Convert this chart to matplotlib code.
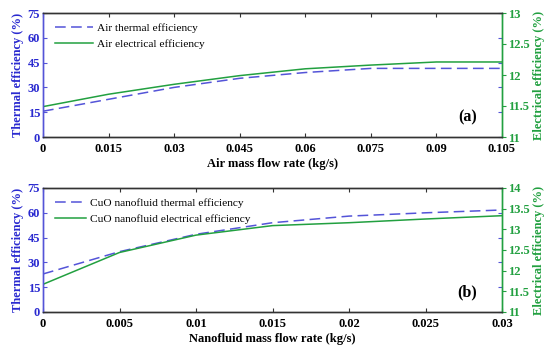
import matplotlib
matplotlib.use("Agg")
import matplotlib.pyplot as plt

# ---- data ----
x_air = [0, 0.015, 0.03, 0.045, 0.06, 0.075, 0.09, 0.105]
thermal_air = [15.6, 22.8, 30.0, 35.5, 39.0, 41.5, 41.5, 41.5]
elec_air = [11.49, 11.69, 11.85, 11.99, 12.10, 12.16, 12.21, 12.21]

x_nf = [0, 0.005, 0.01, 0.015, 0.02, 0.025, 0.03]
thermal_nf = [23.0, 36.5, 47.0, 54.0, 58.0, 60.0, 61.7]
elec_nf = [11.67, 12.44, 12.86, 13.09, 13.16, 13.25, 13.33]

air_labels = ["Air thermal efficiency", "Air electrical efficiency"]
nf_labels = ["CuO nanofluid thermal efficiency", "CuO nanofluid electrical efficiency"]

air_xticks = [0, 0.015, 0.03, 0.045, 0.06, 0.075, 0.09, 0.105]
air_xticklabels = ["0", "0.015", "0.03", "0.045", "0.06", "0.075", "0.09", "0.105"]
nf_xticks = [0, 0.005, 0.01, 0.015, 0.02, 0.025, 0.03]
nf_xticklabels = ["0", "0.005", "0.01", "0.015", "0.02", "0.025", "0.03"]
th_ticks = [0, 15, 30, 45, 60, 75]
air_el_ticks = [11, 11.5, 12, 12.5, 13]
air_el_labels = ["11", "11.5", "12", "12.5", "13"]
nf_el_ticks = [11, 11.5, 12, 12.5, 13, 13.5, 14]
nf_el_labels = ["11", "11.5", "12", "12.5", "13", "13.5", "14"]

BLUE_TXT = "#2a2ad0"
BLUE_LN = "#5454d8"
GREEN = "#22a040"

plt.rcParams['font.family'] = "Liberation Serif"

fig = plt.figure(figsize=(5.5, 3.51), dpi=100)
W, H = 550, 351


def panel(rect, x, th, el, labels, xticks, xlabels, xlim, el_ticks, el_labels, el_lim,
          xlabel, th_label, el_label, tag, hlen):
    left, top, right, bottom = rect
    ax = fig.add_axes([left / W, 1 - bottom / H, (right - left) / W, (bottom - top) / H])
    axr = ax.twinx()
    l1, = ax.plot(x, th, color=BLUE_LN, lw=1.1, dashes=(7, 3.5))
    l2, = axr.plot(x, el, color=GREEN, lw=1.1)
    ax.set_xlim(*xlim)
    ax.set_ylim(0, 75)
    axr.set_ylim(*el_lim)
    ax.set_xticks(xticks)
    ax.set_xticklabels(xlabels, fontweight='bold', fontsize=9)
    ax.set_yticks(th_ticks)
    ax.set_yticklabels([str(t) for t in th_ticks], fontweight='bold', fontsize=9, color=BLUE_TXT)
    axr.set_yticks(el_ticks)
    axr.set_yticklabels(el_labels, fontweight='bold', fontsize=9, color=GREEN)
    ax.tick_params(axis='x', direction='in', top=True, length=3, pad=4.5, color='#333333')
    ax.tick_params(axis='y', direction='in', left=True, right=True, length=3, pad=2, colors=BLUE_LN)
    ax.tick_params(axis='y', labelcolor=BLUE_TXT)
    axr.tick_params(axis='y', direction='out', length=3, pad=1, colors=GREEN)
    for a in (ax, axr):
        a.spines['top'].set_color('#333333')
        a.spines['bottom'].set_color('#333333')
        a.spines['left'].set_color(BLUE_LN)
        a.spines['right'].set_color(GREEN)
        for s in a.spines.values():
            s.set_linewidth(1.0)
    ax.set_xlabel(xlabel, fontweight='bold', fontsize=9, labelpad=2)
    ax.set_ylabel(th_label, fontweight='bold', fontsize=9, color=BLUE_TXT, labelpad=3)
    axr.set_ylabel(el_label, fontweight='bold', fontsize=9, color=GREEN, labelpad=3)
    axr.legend([l1, l2], labels, loc='upper left',
               frameon=False, fontsize=8.2, handlelength=hlen, handletextpad=0.4,
               borderaxespad=0.45, labelspacing=0.58, bbox_to_anchor=(0.005, 1.0))
    axr.text(0.925, 0.16, tag, transform=ax.transAxes, fontweight='bold',
             fontsize=11.5, ha='center', va='center')


panel((43, 13, 502, 137), x_air, thermal_air, elec_air, air_labels, air_xticks, air_xticklabels,
      (0, 0.105), air_el_ticks, air_el_labels, (11, 13),
      "Air mass flow rate (kg/s)", "Thermal efficiency (%)", "Electrical efficiency (%)", "(a)", 3.3)

panel((43, 188, 502, 312), x_nf, thermal_nf, elec_nf, nf_labels, nf_xticks, nf_xticklabels,
      (0, 0.03), nf_el_ticks, nf_el_labels, (11, 14),
      "Nanofluid mass flow rate (kg/s)", "Thermal efficiency (%)", "Electrical efficiency (%)", "(b)", 2.7)

fig.savefig("out.png", dpi=100)
